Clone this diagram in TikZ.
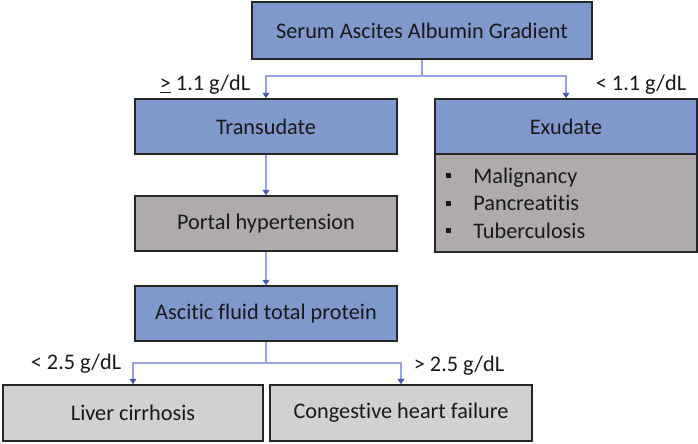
\documentclass[tikz,border=0pt]{standalone}
\usepackage{fontspec}
\setmainfont[Ligatures=NoCommon]{Carlito}
\usetikzlibrary{arrows.meta}

\definecolor{boxblue}{RGB}{127,153,204}
\definecolor{boxgray}{RGB}{175,171,171}
\definecolor{boxlight}{RGB}{210,208,208}
\definecolor{linkblue}{RGB}{150,163,222}
\definecolor{tipblue}{RGB}{72,90,176}
\newcommand{\sqbullet}{\rule[0.22em]{3.8pt}{3.8pt}}

\begin{document}
\begin{tikzpicture}[x=0.75pt,y=-0.75pt,
   font=\fontsize{16.7}{20.6}\selectfont,
   box/.style={draw=black!85,line width=1.1pt,rectangle,minimum width=262*0.75pt,minimum height=55*0.75pt,inner sep=0pt,text=black!90},
   conn/.style={draw=linkblue,line width=0.8pt,-{Triangle[width=5pt,length=4pt,color=tipblue]}},
   cond/.style={text=black!90,inner sep=0pt}]
   \useasboundingbox (0,0) rectangle (698,443);

   \node[box,fill=boxblue,minimum width=340*0.75pt,minimum height=57*0.75pt] (serum) at (422,30.5) {Serum Ascites Albumin Gradient};
   \node[box,fill=boxblue] (trans) at (266,126.5) {Transudate};
   \node[box,fill=boxblue] (exud) at (566,126.5) {Exudate};
   \node[box,fill=boxgray,minimum height=98*0.75pt,text width=262*0.75pt-16pt,inner xsep=8pt,align=left] (exlist) at (566,203)
      {\sqbullet\hspace{17pt}Malignancy\\ \sqbullet\hspace{17pt}Pancreatitis\\ \sqbullet\hspace{17pt}Tuberculosis};
   \node[box,fill=boxgray] (portal) at (266,223.5) {Portal hypertension};
   \node[box,fill=boxblue] (protein) at (266,313.5) {Ascitic fluid total protein};
   \node[box,fill=boxlight,minimum width=260*0.75pt,minimum height=56*0.75pt] (cirr) at (133,413) {Liver cirrhosis};
   \node[box,fill=boxlight,minimum height=56*0.75pt] (chf) at (401,413) {Congestive heart failure};

   \coordinate (split1) at (422,76);
   \coordinate (split2) at (266,363);
   \draw[conn] (serum.south) -- (split1) -| (trans.north);
   \draw[conn] (split1) -| (exud.north);
   \draw[conn] (trans.south) -- (portal.north);
   \draw[conn] (portal.south) -- (protein.north);
   \draw[conn] (protein.south) -- (split2) -| (cirr.north);
   \draw[conn] (split2) -| (chf.north);

   \node[cond] (hi1) at (205,85) {\underline{>} 1.1 g/dL};
   \node[cond] (lo1) at (641,85) {< 1.1 g/dL};
   \node[cond] (lo2) at (76,364) {< 2.5 g/dL};
   \node[cond] (hi2) at (459,366) {> 2.5 g/dL};
\end{tikzpicture}
\end{document}
